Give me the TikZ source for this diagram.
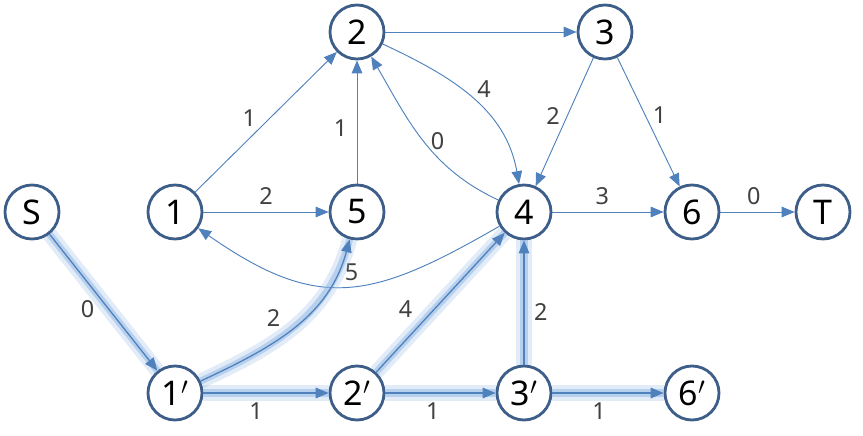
\documentclass[tikz,border=0pt]{standalone}
\usepackage{fontspec}
\setmainfont{Noto Sans}
\usetikzlibrary{arrows.meta}

\definecolor{ringc}{HTML}{3E5E8A}
\definecolor{edgec}{HTML}{4F81BD}
\definecolor{glowc}{HTML}{8DB4E2}
\definecolor{labc}{HTML}{404040}

\tikzset{
	vert/.style={circle, draw=ringc, line width=2.4pt, fill=white, minimum size=1.62cm, inner sep=0pt, font=\fontsize{29}{29}\selectfont},
	arc/.style={draw=edgec, line width=0.8pt, -{Triangle[length=11pt,width=9pt]}},
	hot/.style={arc, line width=1.1pt, preaction={draw=glowc, opacity=0.25, line width=13pt, -}, preaction={draw=glowc, opacity=0.5, line width=6pt, -}},
	lbl/.style={text=labc, font=\fontsize{20}{20}\selectfont, inner sep=2pt}
}

\begin{document}
	\begin{tikzpicture}[x=0.03cm, y=0.03cm]
		\useasboundingbox (0,0) rectangle (863,435);
		\node[vert] (nS) at (32,223) {S};
		\node[vert] (n1) at (175,223) {1};
		\node[vert] (n5) at (357,223) {5};
		\node[vert] (n2) at (357,403) {2};
		\node[vert] (n3) at (605,403) {3};
		\node[vert] (n4) at (524,223) {4};
		\node[vert] (n6) at (692,223) {6};
		\node[vert] (nT) at (823,223) {T};
		\node[vert] (n1p) at (175,42) {1$'$};
		\node[vert] (n2p) at (357,42) {2$'$};
		\node[vert] (n3p) at (524,42) {3$'$};
		\node[vert] (n6p) at (692,42) {6$'$};

		\draw[arc] (n1) -- node[lbl, pos=.45, above left] {1} (n2);
		\draw[arc] (n1) -- node[lbl, pos=.5, above=4pt] {2} (n5);
		\draw[arc] (n5) -- node[lbl, pos=.45, left=6pt] {1} (n2);
		\draw[arc] (n2) -- (n3);
		\draw[arc] (n2) to[out=-25, in=100] node[lbl, pos=.52, above right] {4} (n4);
		\draw[arc] (n4) to[out=155, in=-60] node[lbl, pos=.5, right=4pt] {0} (n2);
		\draw[arc] (n3) -- node[lbl, pos=.45, left=4pt] {2} (n4);
		\draw[arc] (n3) -- node[lbl, pos=.45, right=4pt] {1} (n6);
		\draw[arc] (n4) -- node[lbl, pos=.45, above=4pt] {3} (n6);
		\draw[arc] (n6) -- node[lbl, pos=.45, above=4pt] {0} (nT);
		\draw[arc] (n4) to[out=-150, in=-35, looseness=1.25] node[lbl, pos=.48, above=2pt] {5} (n1);

		\draw[hot] (nS) -- node[lbl, pos=.55, left=10pt] {0} (n1p);
		\draw[hot] (n1p) to[out=25, in=-105] node[lbl, pos=.45, above left=3pt] {2} (n5);
		\draw[hot] (n1p) -- node[lbl, pos=.42, below=6pt] {1} (n2p);
		\draw[hot] (n2p) -- node[lbl, pos=.45, left=16pt] {4} (n4);
		\draw[hot] (n2p) -- node[lbl, pos=.43, below=6pt] {1} (n3p);
		\draw[hot] (n3p) -- node[lbl, pos=.42, right=6pt] {2} (n4);
		\draw[hot] (n3p) -- node[lbl, pos=.42, below=6pt] {1} (n6p);
	\end{tikzpicture}
\end{document}
